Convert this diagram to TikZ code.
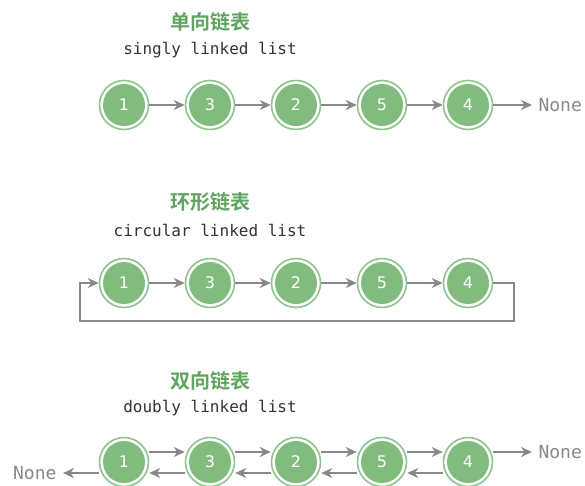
\documentclass[tikz,border=0pt]{standalone}
\usepackage{fontspec}
\setmonofont{DejaVu Sans Mono}
\setsansfont{DejaVu Sans}
\newfontfamily\cjk{Noto Sans CJK SC}[BoldFont={Noto Sans CJK SC Bold}]
\usetikzlibrary{arrows.meta}
\definecolor{ringgreen}{HTML}{8CC48C}
\definecolor{fillgreen}{HTML}{82BB7E}
\definecolor{titlegreen}{HTML}{5FA55F}
\definecolor{linegray}{HTML}{888888}
\definecolor{txtgray}{HTML}{333333}
\begin{document}
\begin{tikzpicture}[x=1pt,y=-1pt,
  listnode/.style={circle,fill=fillgreen,draw=none,minimum size=42pt,inner sep=0pt,
    text=white,font=\sffamily\fontsize{16}{16}\selectfont},
  ringnode/.style={circle,draw=ringgreen,line width=1.6pt,minimum size=49pt,inner sep=0pt},
  titletext/.style={font=\cjk\bfseries\fontsize{20}{20}\selectfont,text=titlegreen},
  subtext/.style={font=\ttfamily\fontsize{16}{16}\selectfont,text=txtgray},
  nonetext/.style={font=\ttfamily\fontsize{18}{18}\selectfont,text=linegray},
  link/.style={draw=linegray,line width=2.2pt,-{Stealth[length=11pt,width=10pt]}}
]
\useasboundingbox (0,0) rectangle (585,485);
\newcommand{\lnode}[3]{%
  \node[ringnode] (#1r) at (#2) {};
  \node[listnode] (#1) at (#2) {#3};}

% Row 1
\node[titletext] (t1) at (210,22) {单向链表};
\node[subtext] (s1) at (210,50) {singly linked list};
\lnode{a1}{124,105}{1}
\lnode{a2}{210,105}{3}
\lnode{a3}{296,105}{2}
\lnode{a4}{382,105}{5}
\lnode{a5}{468,105}{4}
\node[nonetext,anchor=west] (an) at (535,105) {None};
\draw[link] (a1r) -- (a2r);
\draw[link] (a2r) -- (a3r);
\draw[link] (a3r) -- (a4r);
\draw[link] (a4r) -- (a5r);
\draw[link,shorten >=3pt] (a5r) -- (an);

% Row 2
\node[titletext] (t2) at (210,202) {环形链表};
\node[subtext] (s2) at (210,230) {circular linked list};
\lnode{b1}{124,283}{1}
\lnode{b2}{210,283}{3}
\lnode{b3}{296,283}{2}
\lnode{b4}{382,283}{5}
\lnode{b5}{468,283}{4}
\draw[link] (b1r) -- (b2r);
\draw[link] (b2r) -- (b3r);
\draw[link] (b3r) -- (b4r);
\draw[link] (b4r) -- (b5r);
\coordinate (c1) at (514,283);
\coordinate (c2) at (514,321);
\coordinate (c3) at (80,321);
\coordinate (c4) at (80,283);
\draw[link] (b5r.east) -- (c1) -- (c2) -- (c3) -- (c4) -- (b1r.west);

% Row 3
\node[titletext] (t3) at (210,381) {双向链表};
\node[subtext] (s3) at (210,408) {doubly linked list};
\lnode{d1}{124,462}{1}
\lnode{d2}{210,462}{3}
\lnode{d3}{296,462}{2}
\lnode{d4}{382,462}{5}
\lnode{d5}{468,462}{4}
\foreach \p/\q in {d1/d2,d2/d3,d3/d4,d4/d5}{
  \draw[link] ([yshift=10pt]\p r.east) -- ([yshift=10pt]\q r.west);
  \draw[link] ([yshift=-11pt]\q r.west) -- ([yshift=-11pt]\p r.east);
}
\node[nonetext,anchor=west] (dn) at (535,452) {None};
\node[nonetext,anchor=east] (dl) at (60,473) {None};
\draw[link,shorten >=3pt] ([yshift=10pt]d5r.east) -- (dn.west);
\draw[link,shorten >=3pt] ([yshift=-11pt]d1r.west) -- (dl.east);
\end{tikzpicture}
\end{document}
